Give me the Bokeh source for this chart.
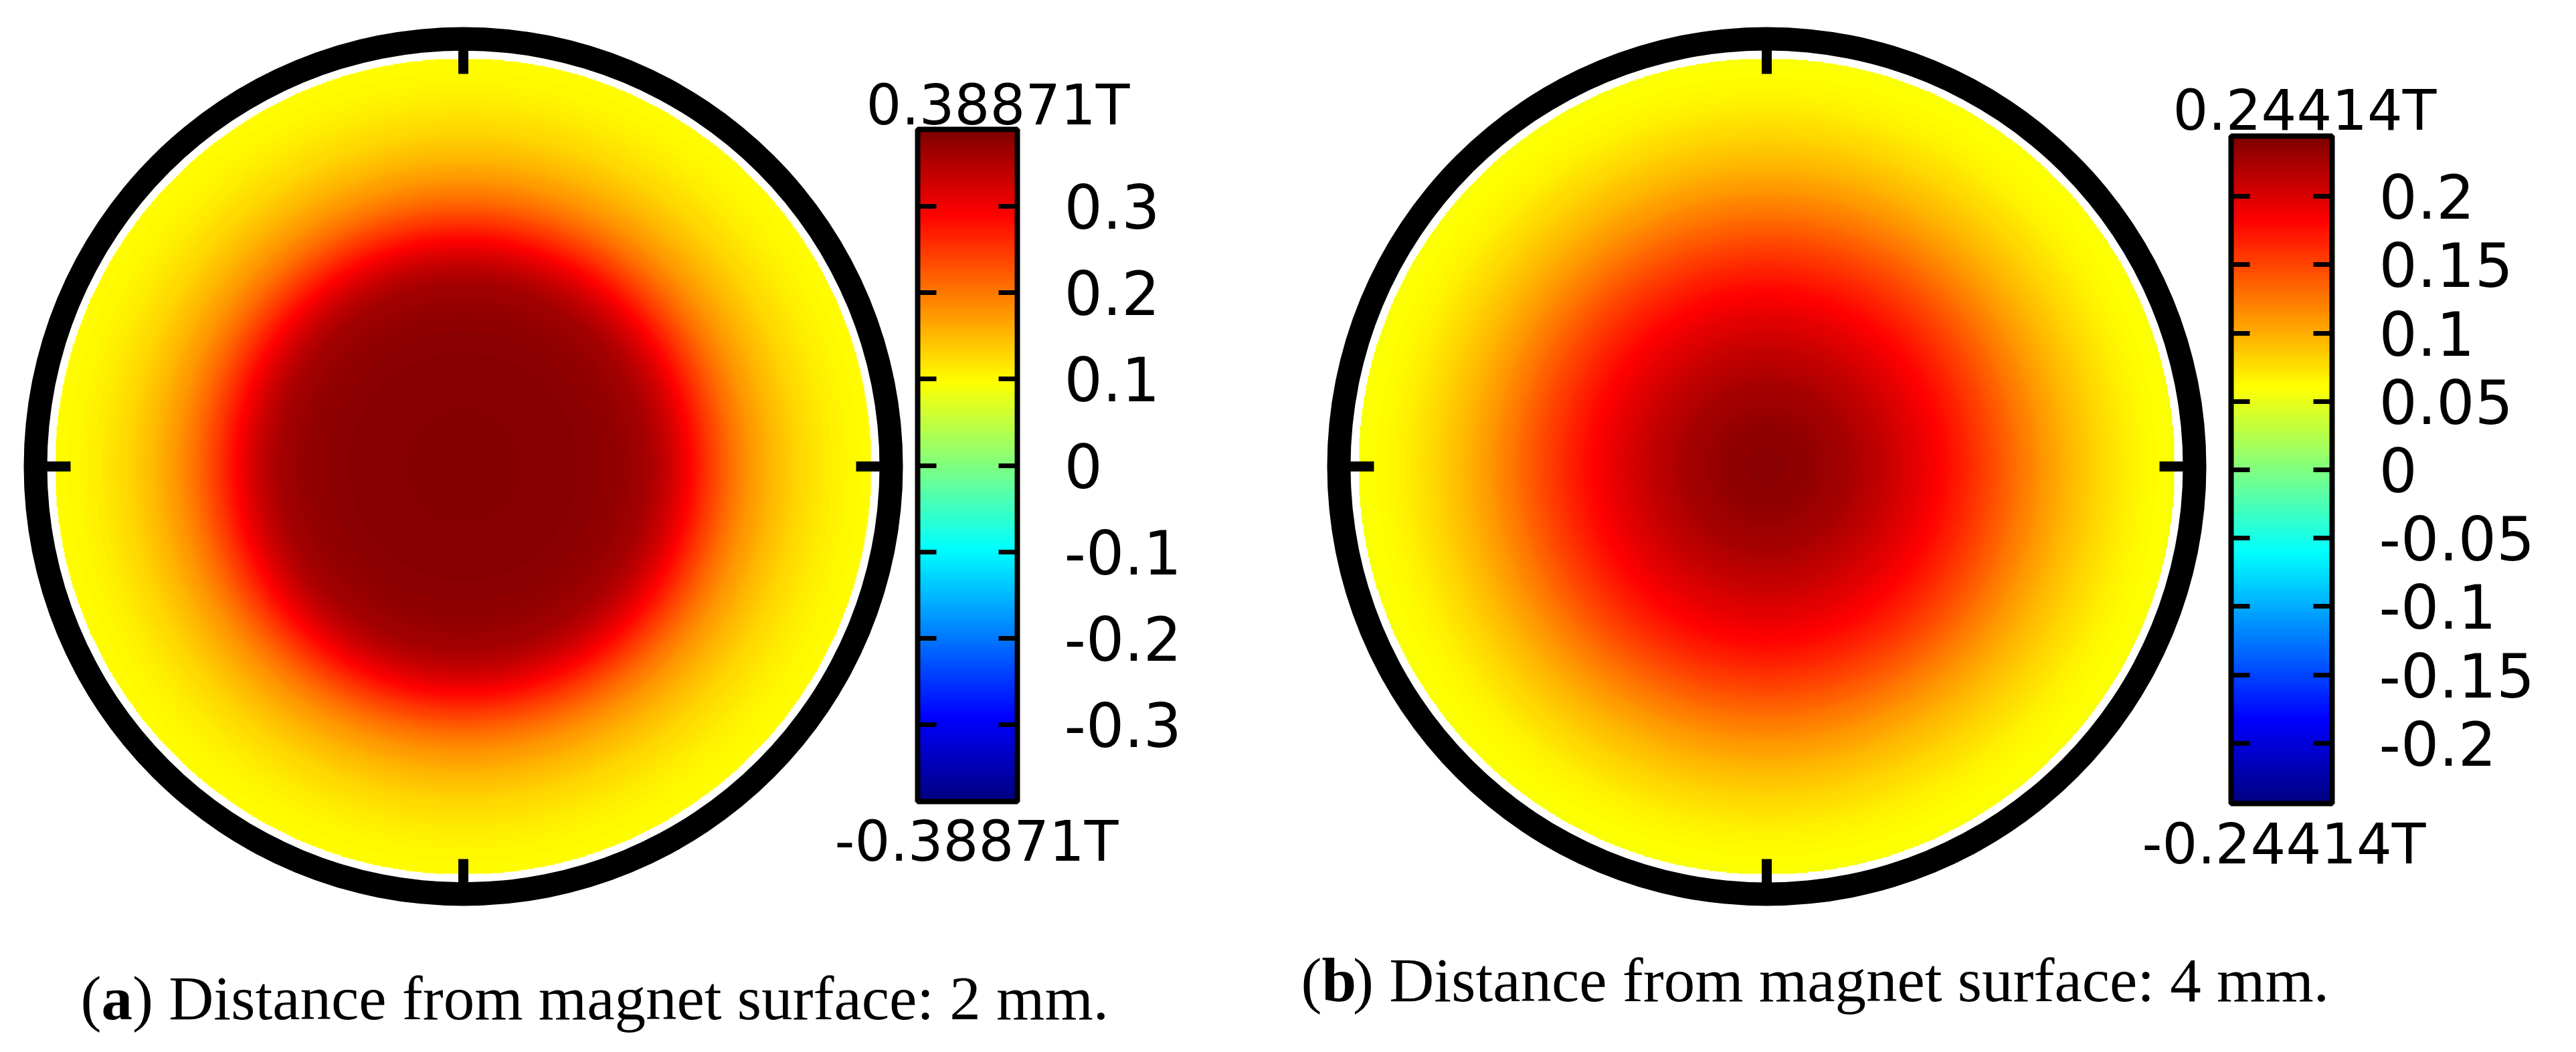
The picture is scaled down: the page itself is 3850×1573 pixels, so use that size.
import numpy as np
from bokeh.plotting import figure
from bokeh.models import Range1d, LinearColorMapper, ColorBar, FixedTicker
from bokeh.embed import file_html
from bokeh.resources import INLINE
from bokeh.core.properties import value

# ---------------- data ----------------
radius_frac_a = [0.00, 0.10, 0.20, 0.30, 0.38, 0.44, 0.48, 0.52, 0.56, 0.60, 0.65, 0.70, 0.76, 0.82, 0.88, 0.94, 1.00]
field_a = [0.383, 0.383, 0.382, 0.379, 0.373, 0.362, 0.345, 0.318, 0.285, 0.250, 0.210, 0.178, 0.150, 0.128, 0.113, 0.103, 0.097]
radius_frac_b = [0.00, 0.10, 0.20, 0.30, 0.38, 0.44, 0.50, 0.56, 0.62, 0.68, 0.75, 0.82, 0.88, 0.94, 1.00]
field_b = [0.238, 0.235, 0.225, 0.208, 0.192, 0.178, 0.162, 0.145, 0.127, 0.110, 0.093, 0.079, 0.069, 0.062, 0.058]
range_max = [0.38871, 0.24414]
ticks_a = [-0.3, -0.2, -0.1, 0, 0.1, 0.2, 0.3]
tick_labels_a = ["-0.3", "-0.2", "-0.1", "0", "0.1", "0.2", "0.3"]
ticks_b = [-0.2, -0.15, -0.1, -0.05, 0, 0.05, 0.1, 0.15, 0.2]
tick_labels_b = ["-0.2", "-0.15", "-0.1", "-0.05", "0", "0.05", "0.1", "0.15", "0.2"]
panel_letters = ["a", "b"]
caption_texts = [") Distance from magnet surface: 2 mm.", ") Distance from magnet surface: 4 mm."]

# ---------------- layout (page pixels) ----------------
W, H = 3834, 1557


def Y(py):
    return 1573 - py


def YT(py, fs):
    # rendered alphabetic baseline sits ~0.2em low; compensate
    return 1573 - (py - 0.2 * fs)


centers = [(700, 705), (2648, 705)]
R_DISK, RING_IN, RING_OUT, TICK_END = 611, 622, 657, 587
bars = [dict(left=1379, right=1528, top=201, bottom=1206),
        dict(left=3342, right=3493, top=211, bottom=1209)]
top_lab = [(1696, 182), (3649, 190)]
bot_lab = [(1679, 1283), (3633, 1287)]
cap_pos = [(128, 1519), (1952, 1492)]
LAB_FS = 83
CAP_FS = 93

SANS = value("DejaVu Sans")
SERIF = value("Liberation Serif")


def jet(n=256):
    t = np.linspace(0, 1, n)
    r = np.clip(1.5 - np.abs(4 * t - 3), 0, 1)
    g = np.clip(1.5 - np.abs(4 * t - 2), 0, 1)
    b = np.clip(1.5 - np.abs(4 * t - 1), 0, 1)
    return ["#%02x%02x%02x" % (int(round(255 * a)), int(round(255 * c)), int(round(255 * d)))
            for a, c, d in zip(r, g, b)]


JET = jet()

p = figure(width=W, height=H, x_range=Range1d(8, 8 + W), y_range=Range1d(1573 - 8 - H, 1565),
           output_backend="svg", toolbar_location=None, min_border=0,
           x_axis_location=None, y_axis_location=None, outline_line_color=None)
p.grid.visible = False
p.background_fill_color = "white"
p.border_fill_color = "white"

profiles = [(radius_frac_a, field_a), (radius_frac_b, field_b)]
ticksets = [(ticks_a, tick_labels_a), (ticks_b, tick_labels_b)]

N = 800
g = np.linspace(-1, 1, N)
xx, yy = np.meshgrid(g, g)
rr = np.hypot(xx, yy)

for i in range(2):
    cx, cy = centers[i]
    vmax = range_max[i]
    mapper = LinearColorMapper(palette=JET, low=-vmax, high=vmax, nan_color=(0, 0, 0, 0))
    rad, fld = profiles[i]
    img = np.interp(rr, rad, fld)
    img[rr > 1.0] = np.nan
    p.image(image=[img], x=cx - R_DISK, y=Y(cy) - R_DISK, dw=2 * R_DISK, dh=2 * R_DISK,
            color_mapper=mapper)
    p.annulus(x=cx, y=Y(cy), inner_radius=RING_IN, outer_radius=RING_OUT,
              fill_color="black", line_color=None)
    ang = np.deg2rad([0, 90, 180, 270])
    p.segment(x0=cx + (RING_IN + 6) * np.cos(ang), y0=Y(cy) + (RING_IN + 6) * np.sin(ang),
              x1=cx + TICK_END * np.cos(ang), y1=Y(cy) + TICK_END * np.sin(ang),
              line_color="black", line_width=15, line_cap="butt")

    b = bars[i]
    tks, tls = ticksets[i]
    cb = ColorBar(color_mapper=mapper, location=(b["left"] - 8, (8 + H) - b["bottom"]),
                  width=b["right"] - b["left"], height=b["bottom"] - b["top"],
                  ticker=FixedTicker(ticks=tks), major_label_overrides=dict(zip(tks, tls)),
                  major_label_text_font="DejaVu Sans", major_label_text_font_size="90px",
                  major_label_text_color="black",
                  major_tick_in=28, major_tick_out=0, major_tick_line_color="black",
                  major_tick_line_width=7, minor_tick_line_color=None,
                  bar_line_color="black", bar_line_width=8,
                  border_line_color=None, background_fill_color=None,
                  padding=0, margin=0, label_standoff=70)
    p.add_layout(cb, "center")
    cb2 = ColorBar(color_mapper=mapper, location=(b["left"] - 8 - 10, (8 + H) - b["bottom"]),
                   width=10, height=b["bottom"] - b["top"], scale_alpha=0,
                   ticker=FixedTicker(ticks=tks), major_label_text_alpha=0,
                   major_label_text_font_size="10px",
                   major_tick_in=0, major_tick_out=28, major_tick_line_color="black",
                   major_tick_line_width=7, minor_tick_line_color=None,
                   bar_line_color=None, border_line_color=None, background_fill_color=None,
                   padding=0, margin=0)
    p.add_layout(cb2, "center")

    tx, ty = top_lab[i]
    bx, by = bot_lab[i]
    p.text(x=[tx], y=[YT(ty, LAB_FS)], text=[f"{vmax}T"], text_font=SANS,
           text_font_size=f"{LAB_FS}px", text_align="right", text_baseline="alphabetic",
           text_color="black")
    p.text(x=[bx], y=[YT(by, LAB_FS)], text=[f"-{vmax}T"], text_font=SANS,
           text_font_size=f"{LAB_FS}px", text_align="right", text_baseline="alphabetic",
           text_color="black")

    qx, qy = cap_pos[i]
    fs = CAP_FS
    p.text(x=[qx], y=[YT(qy, fs)], text=["("], text_font=SERIF, text_font_size=f"{fs}px",
           text_baseline="alphabetic", text_color="black")
    p.text(x=[qx + 0.333 * fs], y=[YT(qy, fs)], text=[panel_letters[i]], text_font=SERIF,
           text_font_size=f"{fs}px", text_font_style="bold", text_baseline="alphabetic",
           text_color="black")
    p.text(x=[qx + 0.833 * fs], y=[YT(qy, fs)], text=[caption_texts[i]], text_font=SERIF,
           text_font_size=f"{fs}px", text_baseline="alphabetic", text_color="black")

open("out.html", "w").write(file_html(p, INLINE))
